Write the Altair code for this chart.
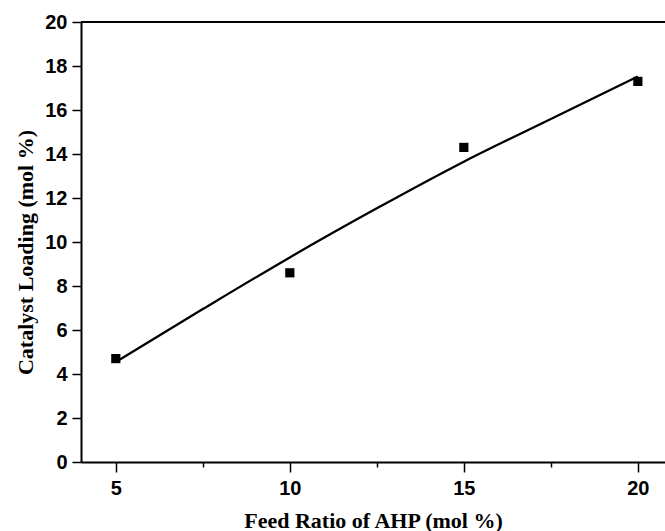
import altair as alt
import pandas as pd

# Measured catalyst loading at each AHP feed ratio
feed_ratio = [5, 10, 15, 20]
loading = [4.7, 8.6, 14.3, 17.3]

# Fitted trend curve
fit_x = [5, 7.5, 10, 12.5, 15, 17.5, 20]
fit_y = [4.55, 6.95, 9.30, 11.53, 13.65, 15.59, 17.52]

# Axis tick positions (major + minor)
x_ticks = [5, 7.5, 10, 12.5, 15, 17.5, 20]
y_ticks = list(range(0, 21))

pts = pd.DataFrame({"x": feed_ratio, "y": loading})
fit = pd.DataFrame({"x": fit_x, "y": fit_y})

x_scale = alt.Scale(domain=[4, 20.78], nice=False, zero=False)
y_scale = alt.Scale(domain=[0, 20], nice=False)

x_axis = alt.Axis(
    values=x_ticks,
    title="Feed Ratio of AHP (mol %)",
    labelExpr="datum.value % 5 == 0 ? datum.label : ''",
    tickSize={"condition": {"test": "datum.value % 5 == 0", "value": 10}, "value": 5},
    labelPadding=6,
    titleY=58,
    titleBaseline="middle",
)
y_axis = alt.Axis(
    values=y_ticks,
    title="Catalyst Loading (mol %)",
    labelExpr="datum.value % 2 == 0 ? datum.label : ''",
    tickSize={"condition": {"test": "datum.value % 2 == 0", "value": 9}, "value": 5},
    labelPadding=5,
    titleX=-56,
    titleY=230,
    titleBaseline="middle",
)

x_enc = alt.X("x:Q", scale=x_scale, axis=x_axis)
y_enc = alt.Y("y:Q", scale=y_scale, axis=y_axis)

curve = alt.Chart(fit).mark_line(
    interpolate="monotone", color="black", strokeWidth=2.3
).encode(x=x_enc, y=y_enc)

markers = alt.Chart(pts).mark_square(
    size=85, color="black", opacity=1
).encode(x="x:Q", y="y:Q")

top_spine = alt.Chart(pts).mark_rule(color="black", strokeWidth=2).encode(
    y=alt.datum(20)
)

chart = (
    alt.layer(curve, markers, top_spine)
    .properties(
        width=584,
        height=440,
        padding={"left": 81, "top": 22, "right": 0, "bottom": 69},
        autosize="none",
        background="white",
    )
    .configure_view(stroke=None)
    .configure_axis(
        grid=False,
        domainColor="black",
        domainWidth=2,
        tickColor="black",
        tickWidth=1.5,
        labelFont="Liberation Sans",
        labelFontWeight="bold",
        labelFontSize=20,
        labelColor="black",
        titleFont="Liberation Serif",
        titleFontWeight="bold",
        titleFontSize=22,
        titleColor="black",
    )
)

chart.save("out.html", embed_options={"renderer": "svg", "actions": False})
